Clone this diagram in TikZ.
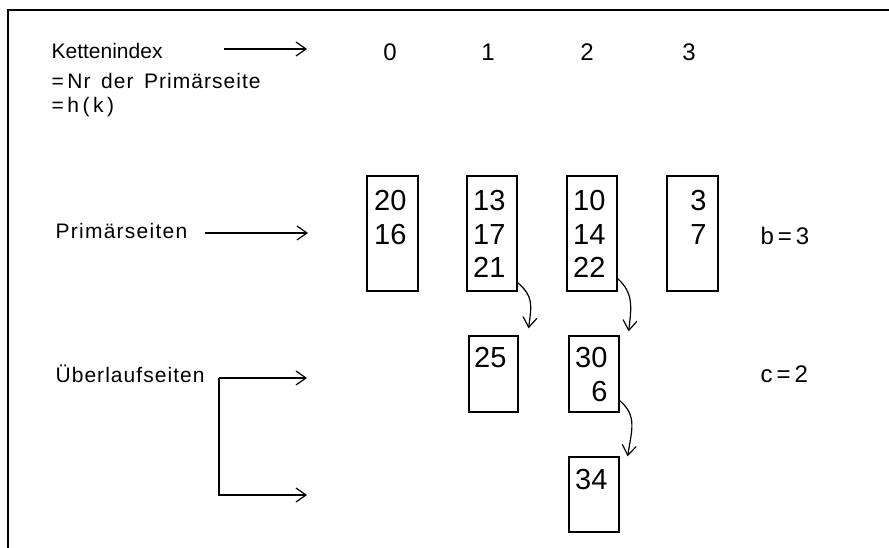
\documentclass[tikz,border=0pt]{standalone}
\usepackage{fontspec}
\setmainfont{Liberation Sans}
\usetikzlibrary{arrows.meta,calc}
\begin{document}
\begin{tikzpicture}[x=1pt,y=-1pt, line width=1.2pt,
  lbl/.style={anchor=base west, inner sep=0pt, font=\fontsize{21}{21}\selectfont},
  idx/.style={anchor=base, inner sep=0pt, font=\fontsize{24}{24}\selectfont},
  num/.style={anchor=base east, inner sep=0pt, font=\fontsize{29}{29}\selectfont},
  page/.style={draw, line width=1.2pt, inner sep=0pt, minimum width=#1pt},
  tall/.style={minimum height=115pt},
  short/.style={minimum height=76pt},
  tip/.style={-{Straight Barb[length=10pt,width=14pt,line width=1.2pt]}}
]
\useasboundingbox (0,0) rectangle (889,548);
% frame
\coordinate (f1) at (8,548);
\coordinate (f2) at (8,10);
\coordinate (f3) at (889,10);
\draw (f1) -- (f2) -- (f3);

% left labels
\node[lbl] (ket) at (51,59) {Kettenindex};
\node[lbl] (nr) at (51,89) {\addfontfeature{LetterSpace=5}=\,Nr\enspace der\enspace Primärseite};
\node[lbl] (hk) at (51,113) {=\,h\,(\,k\,)};
\node[lbl] (prim) at (55,239) {\addfontfeature{LetterSpace=6}Primärseiten};
\node[lbl] (ueb) at (55,382) {\addfontfeature{LetterSpace=5}Überlaufseiten};

% index numbers
\node[idx] (i0) at (390,61) {0};
\node[idx] (i1) at (488,61) {1};
\node[idx] (i2) at (587,61) {2};
\node[idx] (i3) at (689,61) {3};

% label arrows
\coordinate (k1) at (224,49);
\coordinate (k2) at (307,49);
\draw[tip] (k1) -- (k2);
\coordinate (p1) at (205,233);
\coordinate (p2) at (308,233);
\draw[tip] (p1) -- (p2);
\coordinate (u0) at (219,378);
\coordinate (u1) at (307,378);
\coordinate (u2) at (307,495);
\draw[tip] (u0) -- (u1);
\draw[tip] (u0) |- (u2);

% primary pages
\node[page=51, tall] (b0) at (392.5,233.5) {};
\node[page=50, tall] (b1) at (492,233.5) {};
\node[page=50, tall] (b2) at (592,233.5) {};
\node[page=51, tall] (b3) at (692.5,233.5) {};

\node[num] (n20) at (407,211) {20};
\node[num] (n16) at (407,244) {16};
\node[num] (n13) at (506,211) {13};
\node[num] (n17) at (506,244) {17};
\node[num] (n21) at (506,277) {21};
\node[num] (n10) at (606,211) {10};
\node[num] (n14) at (606,244) {14};
\node[num] (n22) at (606,277) {22};
\node[num] (n3) at (707,211) {3};
\node[num] (n7) at (707,244) {7};

% overflow pages
\node[page=49, short] (o1) at (493.5,374) {};
\node[page=50, short] (o2) at (594,374) {};
\node[page=50, minimum height=75pt] (o3) at (594,494.5) {};

\node[num] (n25) at (507,367) {25};
\node[num] (n30) at (608,367) {30};
\node[num] (n6) at (608,401) {6};
\node[num] (n34) at (608,489) {34};

% parameters
\node[idx, anchor=base west] (bb) at (760,244) {b\,=\,3};
\node[idx, anchor=base west] (cc) at (760,382) {c\,=\,2};

% chain arrows
\draw[tip] ($(b1.south east)+(0,-9)$) .. controls +(16,14) and +(3,-24) .. ($(o1.north east)+(10,-7)$);
\draw[tip] ($(b2.south east)+(0,-13)$) .. controls +(16,14) and +(3,-24) .. ($(o2.north east)+(9,-4)$);
\draw[tip] ($(o2.south east)+(0,-12)$) .. controls +(18,15) and +(4,-26) .. ($(o3.north east)+(8,0)$);
\end{tikzpicture}
\end{document}
